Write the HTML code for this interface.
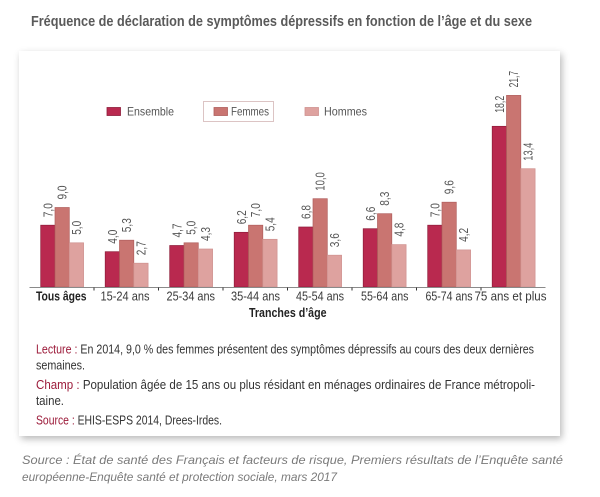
<!DOCTYPE html>
<html>
<head>
<meta charset="utf-8">
<style>
  html, body { margin:0; padding:0; background:#fff; }
  body { width:600px; height:497px; position:relative; overflow:hidden; }
  .panel { position:absolute; left:19px; top:51px; width:541px; height:385px; background:#fff;
           box-shadow: 2px 3px 7px rgba(0,0,0,0.28); }
  svg { position:absolute; left:0; top:0; }
  text { font-family: "Liberation Sans", "DejaVu Sans", sans-serif; }
</style>
</head>
<body>
<div class="panel"></div>
<svg width="600" height="497" viewBox="0 0 600 497" xmlns="http://www.w3.org/2000/svg">
  <!-- Title -->
  <text x="31" y="26" font-size="15" font-weight="bold" fill="#5a5a5a" textLength="501" lengthAdjust="spacingAndGlyphs">Fréquence de déclaration de symptômes dépressifs en fonction de l’âge et du sexe</text>

  <!-- Legend -->
  <rect x="107" y="107.5" width="13.5" height="8" fill="#b9294f" stroke="#8e1d3a" stroke-width="0.8"/>
  <text x="127" y="115.5" font-size="12" fill="#555" textLength="47" lengthAdjust="spacingAndGlyphs">Ensemble</text>
  <rect x="203.5" y="101.5" width="70" height="20" fill="none" stroke="#dcc4c4" stroke-width="1"/>
  <rect x="214" y="107.5" width="13.5" height="8" fill="#c97571" stroke="#b05f5d" stroke-width="0.8"/>
  <text x="231" y="115.5" font-size="12" fill="#555" textLength="38" lengthAdjust="spacingAndGlyphs">Femmes</text>
  <rect x="305" y="107.5" width="13.5" height="8" fill="#dea29f" stroke="#cf9290" stroke-width="0.8"/>
  <text x="324" y="115.5" font-size="12" fill="#555" textLength="43" lengthAdjust="spacingAndGlyphs">Hommes</text>

  <!-- Bars: Ensemble -->
  <g fill="#b9294f" stroke="#8e1d3a" stroke-width="0.7">
    <rect x="40.7" y="225.2" width="14.3" height="61.8"/>
    <rect x="105.2" y="251.7" width="14.3" height="35.3"/>
    <rect x="169.7" y="245.5" width="14.3" height="41.5"/>
    <rect x="234.2" y="232.3" width="14.3" height="54.7"/>
    <rect x="298.7" y="227.0" width="14.3" height="60.0"/>
    <rect x="363.2" y="228.7" width="14.3" height="58.3"/>
    <rect x="427.7" y="225.2" width="14.3" height="61.8"/>
    <rect x="492.2" y="126.3" width="14.3" height="160.7"/>
  </g>
  <!-- Femmes -->
  <g fill="#c97571" stroke="#b05f5d" stroke-width="0.7">
    <rect x="55.0" y="207.5" width="14.3" height="79.5"/>
    <rect x="119.5" y="240.2" width="14.3" height="46.8"/>
    <rect x="184.0" y="242.8" width="14.3" height="44.2"/>
    <rect x="248.5" y="225.2" width="14.3" height="61.8"/>
    <rect x="313.0" y="198.7" width="14.3" height="88.3"/>
    <rect x="377.5" y="213.7" width="14.3" height="73.3"/>
    <rect x="442.0" y="202.2" width="14.3" height="84.8"/>
    <rect x="506.5" y="95.4" width="14.3" height="191.6"/>
  </g>
  <!-- Hommes -->
  <g fill="#dea29f" stroke="#cf9290" stroke-width="0.7">
    <rect x="69.3" y="242.8" width="14.3" height="44.2"/>
    <rect x="133.8" y="263.2" width="14.3" height="23.8"/>
    <rect x="198.3" y="249.0" width="14.3" height="38.0"/>
    <rect x="262.8" y="239.3" width="14.3" height="47.7"/>
    <rect x="327.3" y="255.2" width="14.3" height="31.8"/>
    <rect x="391.8" y="244.6" width="14.3" height="42.4"/>
    <rect x="456.3" y="249.9" width="14.3" height="37.1"/>
    <rect x="520.8" y="168.7" width="14.3" height="118.3"/>
  </g>

  <!-- Axis -->
  <line x1="29.5" y1="287.5" x2="545.5" y2="287.5" stroke="#8a8a8a" stroke-width="1"/>
  <g stroke="#333" stroke-width="1">
    <line x1="94" y1="287.5" x2="94" y2="290.5"/>
    <line x1="158.5" y1="287.5" x2="158.5" y2="290.5"/>
    <line x1="223" y1="287.5" x2="223" y2="290.5"/>
    <line x1="287.5" y1="287.5" x2="287.5" y2="290.5"/>
    <line x1="352" y1="287.5" x2="352" y2="290.5"/>
    <line x1="416.5" y1="287.5" x2="416.5" y2="290.5"/>
    <line x1="481" y1="287.5" x2="481" y2="290.5"/>
  </g>

  <!-- Value labels -->
  <g font-size="13" fill="#555">
    <text transform="translate(52.4,217.2) rotate(-90)" textLength="14" lengthAdjust="spacingAndGlyphs">7,0</text>
    <text transform="translate(116.9,243.7) rotate(-90)" textLength="14" lengthAdjust="spacingAndGlyphs">4,0</text>
    <text transform="translate(181.4,237.5) rotate(-90)" textLength="14" lengthAdjust="spacingAndGlyphs">4,7</text>
    <text transform="translate(245.9,224.3) rotate(-90)" textLength="14" lengthAdjust="spacingAndGlyphs">6,2</text>
    <text transform="translate(310.4,219.0) rotate(-90)" textLength="14" lengthAdjust="spacingAndGlyphs">6,8</text>
    <text transform="translate(374.9,220.7) rotate(-90)" textLength="14" lengthAdjust="spacingAndGlyphs">6,6</text>
    <text transform="translate(439.4,217.2) rotate(-90)" textLength="14" lengthAdjust="spacingAndGlyphs">7,0</text>
    <text transform="translate(503.9,112.8) rotate(-90)" textLength="17" lengthAdjust="spacingAndGlyphs">18,2</text>

    <text transform="translate(66.7,199.5) rotate(-90)" textLength="14" lengthAdjust="spacingAndGlyphs">9,0</text>
    <text transform="translate(131.2,232.2) rotate(-90)" textLength="14" lengthAdjust="spacingAndGlyphs">5,3</text>
    <text transform="translate(195.7,234.8) rotate(-90)" textLength="14" lengthAdjust="spacingAndGlyphs">5,0</text>
    <text transform="translate(260.2,217.2) rotate(-90)" textLength="14" lengthAdjust="spacingAndGlyphs">7,0</text>
    <text transform="translate(324.7,190.7) rotate(-90)" textLength="18.5" lengthAdjust="spacingAndGlyphs">10,0</text>
    <text transform="translate(389.2,205.7) rotate(-90)" textLength="14" lengthAdjust="spacingAndGlyphs">8,3</text>
    <text transform="translate(453.7,194.2) rotate(-90)" textLength="14" lengthAdjust="spacingAndGlyphs">9,6</text>
    <text transform="translate(518.2,87.4) rotate(-90)" textLength="16.5" lengthAdjust="spacingAndGlyphs">21,7</text>

    <text transform="translate(81.0,234.8) rotate(-90)" textLength="14" lengthAdjust="spacingAndGlyphs">5,0</text>
    <text transform="translate(145.5,255.2) rotate(-90)" textLength="14" lengthAdjust="spacingAndGlyphs">2,7</text>
    <text transform="translate(210.0,241.0) rotate(-90)" textLength="14" lengthAdjust="spacingAndGlyphs">4,3</text>
    <text transform="translate(274.5,231.3) rotate(-90)" textLength="14" lengthAdjust="spacingAndGlyphs">5,4</text>
    <text transform="translate(339.0,247.2) rotate(-90)" textLength="14" lengthAdjust="spacingAndGlyphs">3,6</text>
    <text transform="translate(403.5,236.6) rotate(-90)" textLength="14" lengthAdjust="spacingAndGlyphs">4,8</text>
    <text transform="translate(468.0,241.9) rotate(-90)" textLength="14" lengthAdjust="spacingAndGlyphs">4,2</text>
    <text transform="translate(532.5,160.7) rotate(-90)" textLength="18" lengthAdjust="spacingAndGlyphs">13,4</text>
  </g>

  <!-- Category labels -->
  <g font-size="12.5" fill="#3a3a3a">
    <text x="36" y="300.5" font-weight="bold" fill="#222" textLength="50.5" lengthAdjust="spacingAndGlyphs">Tous âges</text>
    <text x="100.5" y="300.5" textLength="49" lengthAdjust="spacingAndGlyphs">15-24 ans</text>
    <text x="166.5" y="300.5" textLength="48.5" lengthAdjust="spacingAndGlyphs">25-34 ans</text>
    <text x="231" y="300.5" textLength="49" lengthAdjust="spacingAndGlyphs">35-44 ans</text>
    <text x="296" y="300.5" textLength="48" lengthAdjust="spacingAndGlyphs">45-54 ans</text>
    <text x="361" y="300.5" textLength="47.5" lengthAdjust="spacingAndGlyphs">55-64 ans</text>
    <text x="425.5" y="300.5" textLength="47" lengthAdjust="spacingAndGlyphs">65-74 ans</text>
    <text x="474.5" y="300.5" textLength="72" lengthAdjust="spacingAndGlyphs">75 ans et plus</text>
  </g>
  <text x="249" y="317" font-size="12.5" font-weight="bold" fill="#222" textLength="77.5" lengthAdjust="spacingAndGlyphs">Tranches d’âge</text>

  <!-- Notes -->
  <g font-size="12.5" fill="#333">
    <text x="36" y="353.5" textLength="498" lengthAdjust="spacingAndGlyphs"><tspan fill="#9c1b3a">Lecture :</tspan> En 2014, 9,0 % des femmes présentent des symptômes dépressifs au cours des deux dernières</text>
    <text x="36" y="369.5" textLength="49" lengthAdjust="spacingAndGlyphs">semaines.</text>
    <text x="36" y="389" textLength="499" lengthAdjust="spacingAndGlyphs"><tspan fill="#9c1b3a">Champ :</tspan> Population âgée de 15 ans ou plus résidant en ménages ordinaires de France métropoli-</text>
    <text x="36" y="405" textLength="28" lengthAdjust="spacingAndGlyphs">taine.</text>
    <text x="36" y="424.5" textLength="186" lengthAdjust="spacingAndGlyphs"><tspan fill="#9c1b3a">Source :</tspan> EHIS-ESPS 2014, Drees-Irdes.</text>
  </g>

  <!-- Footer source -->
  <g font-size="12" font-style="italic" fill="#7a7a7a">
    <text x="22" y="464" textLength="541" lengthAdjust="spacingAndGlyphs">Source : État de santé des Français et facteurs de risque, Premiers résultats de l’Enquête santé</text>
    <text x="22" y="481" textLength="315" lengthAdjust="spacingAndGlyphs">européenne-Enquête santé et protection sociale, mars 2017</text>
  </g>
</svg>
</body>
</html>
